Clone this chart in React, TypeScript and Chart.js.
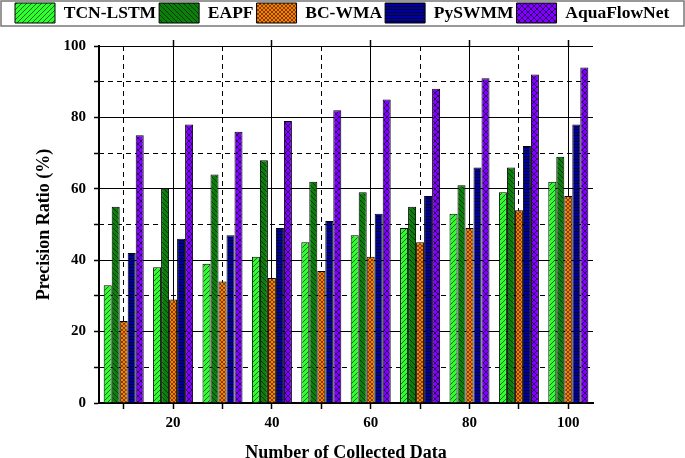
import React, { useEffect, useRef } from "react";
import { Chart, registerables } from "chart.js";

Chart.register(...registerables);

const categories = [10, 20, 30, 40, 50, 60, 70, 80, 90, 100];
const xTickLabels = [20, 40, 60, 80, 100];
const yTickLabels = [0, 20, 40, 60, 80, 100];

const tcnLstm = [33, 38, 39, 41, 45, 47, 49, 53, 59, 62];
const eapf = [55, 60, 64, 68, 62, 59, 55, 61, 66, 69];
const bcWma = [23, 29, 34, 35, 37, 41, 45, 49, 54, 58];
const pySwmm = [42, 46, 47, 49, 51, 53, 58, 66, 72, 78];
const aquaFlowNet = [75, 78, 76, 79, 82, 85, 88, 91, 92, 94];

const CLEAR = "rgba(0,0,0,0)";

// small hatch tiles, like the origin-style fill patterns
function hatch(bg: string, kind: string, size: number, lw: number): CanvasPattern | string {
  const c = document.createElement("canvas");
  c.width = size;
  c.height = size;
  const g = c.getContext("2d");
  if (!g) return bg;
  g.fillStyle = bg;
  g.fillRect(0, 0, size, size);
  g.strokeStyle = "#000";
  g.lineWidth = lw;
  g.beginPath();
  if (kind === "fwd" || kind === "cross") {
    for (let o = -size; o <= size; o += size) {
      g.moveTo(o, size);
      g.lineTo(o + size, 0);
    }
  }
  if (kind === "back" || kind === "cross") {
    for (let o = -size; o <= size; o += size) {
      g.moveTo(o, 0);
      g.lineTo(o + size, size);
    }
  }
  if (kind === "horiz") {
    g.moveTo(0, 0.5);
    g.lineTo(size, 0.5);
  }
  g.stroke();
  return g.createPattern(c, "repeat") || bg;
}

const legendFrame = {
  id: "legendFrame",
  afterDraw(chart: any) {
    const lg = chart.legend;
    if (!lg || !lg.legendHitBoxes || !lg.legendHitBoxes.length) return;
    const hb = lg.legendHitBoxes[0];
    const c = chart.ctx;
    c.save();
    c.strokeStyle = "#777";
    c.lineWidth = 1.5;
    c.strokeRect(1, hb.top - 2, chart.width - 2, hb.height + 5);
    c.restore();
  },
};

const App: React.FC = () => {
  const canvasRef = useRef<HTMLCanvasElement | null>(null);
  const chartRef = useRef<Chart | null>(null);

  useEffect(() => {
    document.body.style.margin = "0";
    if (!canvasRef.current) return;
    if (chartRef.current) chartRef.current.destroy();
    const ctx = canvasRef.current.getContext("2d");
    if (!ctx) return;

    Chart.defaults.font.family = "'Liberation Serif', 'Times New Roman', serif";
    Chart.defaults.color = "#000";

    const even = (i: number) => xTickLabels.includes(categories[i]);

    chartRef.current = new Chart(ctx, {
      type: "bar",
      data: {
        labels: categories.map(String),
        datasets: [
          { label: "TCN-LSTM", data: tcnLstm, backgroundColor: hatch("#2cff2c", "fwd", 5, 0.6) },
          { label: "EAPF", data: eapf, backgroundColor: hatch("#0a800a", "back", 5, 0.6) },
          { label: "BC-WMA", data: bcWma, backgroundColor: hatch("#ff8000", "cross", 4, 0.5) },
          { label: "PySWMM", data: pySwmm, backgroundColor: hatch("#0000a0", "horiz", 3, 0.7) },
          { label: "AquaFlowNet", data: aquaFlowNet, backgroundColor: hatch("#8000ff", "cross", 6, 0.6) },
        ].map((d) => ({ ...d, borderColor: "#000", borderWidth: 1, barPercentage: 1, categoryPercentage: 0.81 })),
      },
      options: {
        responsive: false,
        animation: false,
        layout: { padding: { left: 12, top: 0, right: 0, bottom: 0 } },
        plugins: {
          tooltip: { enabled: false },
          legend: {
            position: "top",
            align: "start",
            labels: {
              boxWidth: 40,
              boxHeight: 20,
              padding: 3,
              color: "#000",
              font: { size: 17.5, weight: "bold" },
            },
          },
        },
        scales: {
          x: {
            type: "category",
            position: "bottom",
            offset: true,
            grid: {
              offset: false,
              color: (c: any) => (even(c.index) ? "#000" : CLEAR),
              lineWidth: 1,
              tickLength: 6,
              tickColor: "#000",
              tickWidth: 1.5,
            },
            border: { color: "#000", width: 2 },
            ticks: {
              autoSkip: false,
              maxRotation: 0,
              padding: 5,
              color: "#000",
              font: { size: 15, weight: "bold" },
              callback: (_v: any, i: number) => (even(i) ? String(categories[i]) : ""),
            },
            title: {
              display: true,
              text: "Number of Collected Data",
              color: "#000",
              font: { size: 18, weight: "bold" },
              padding: { top: 0, bottom: -6 },
            },
            afterFit: (s: any) => {
              s.height = 55;
            },
          },
          x2: {
            type: "category",
            position: "top",
            offset: true,
            grid: {
              offset: false,
              color: (c: any) => (even(c.index) ? CLEAR : "#000"),
              lineWidth: 1,
              tickLength: 6,
              tickColor: (c: any) => (even(c.index) ? "#000" : CLEAR),
              tickWidth: 1.5,
            },
            border: { display: false, dash: [5, 4] },
            ticks: { display: false, autoSkip: false },
            afterFit: (s: any) => {
              s.height = 13;
            },
          },
          y: {
            type: "linear",
            position: "left",
            min: 0,
            max: 100,
            ticks: {
              stepSize: 10,
              padding: 8,
              color: "#000",
              font: { size: 15, weight: "bold" },
              callback: (v: any) => (yTickLabels.includes(Number(v)) ? String(v) : ""),
            },
            grid: {
              color: (c: any) => (c.tick && c.tick.value % 20 === 0 ? "#000" : CLEAR),
              lineWidth: 1,
              tickLength: 5,
              tickColor: "#000",
              tickWidth: 1.5,
            },
            border: { color: "#000", width: 2 },
            title: {
              display: true,
              text: "Precision Ratio (%)",
              color: "#000",
              font: { size: 18, weight: "bold" },
              padding: { top: 22, bottom: 0 },
            },
            afterFit: (s: any) => {
              s.width = 87;
            },
          },
          y2: {
            type: "linear",
            position: "right",
            min: 0,
            max: 100,
            ticks: { stepSize: 10, display: false },
            grid: {
              color: (c: any) => (c.tick && c.tick.value % 20 !== 0 ? "#000" : CLEAR),
              lineWidth: 1,
              drawTicks: false,
            },
            border: { display: false, dash: [5, 4] },
            afterFit: (s: any) => {
              s.width = 92;
            },
          },
        },
      } as any,
      plugins: [legendFrame],
    });

    return () => {
      if (chartRef.current) {
        chartRef.current.destroy();
        chartRef.current = null;
      }
    };
  }, []);

  return (
    <div style={{ width: 685, height: 458 }}>
      <canvas ref={canvasRef} width={685} height={458} style={{ display: "block" }} />
    </div>
  );
};

export default App;
